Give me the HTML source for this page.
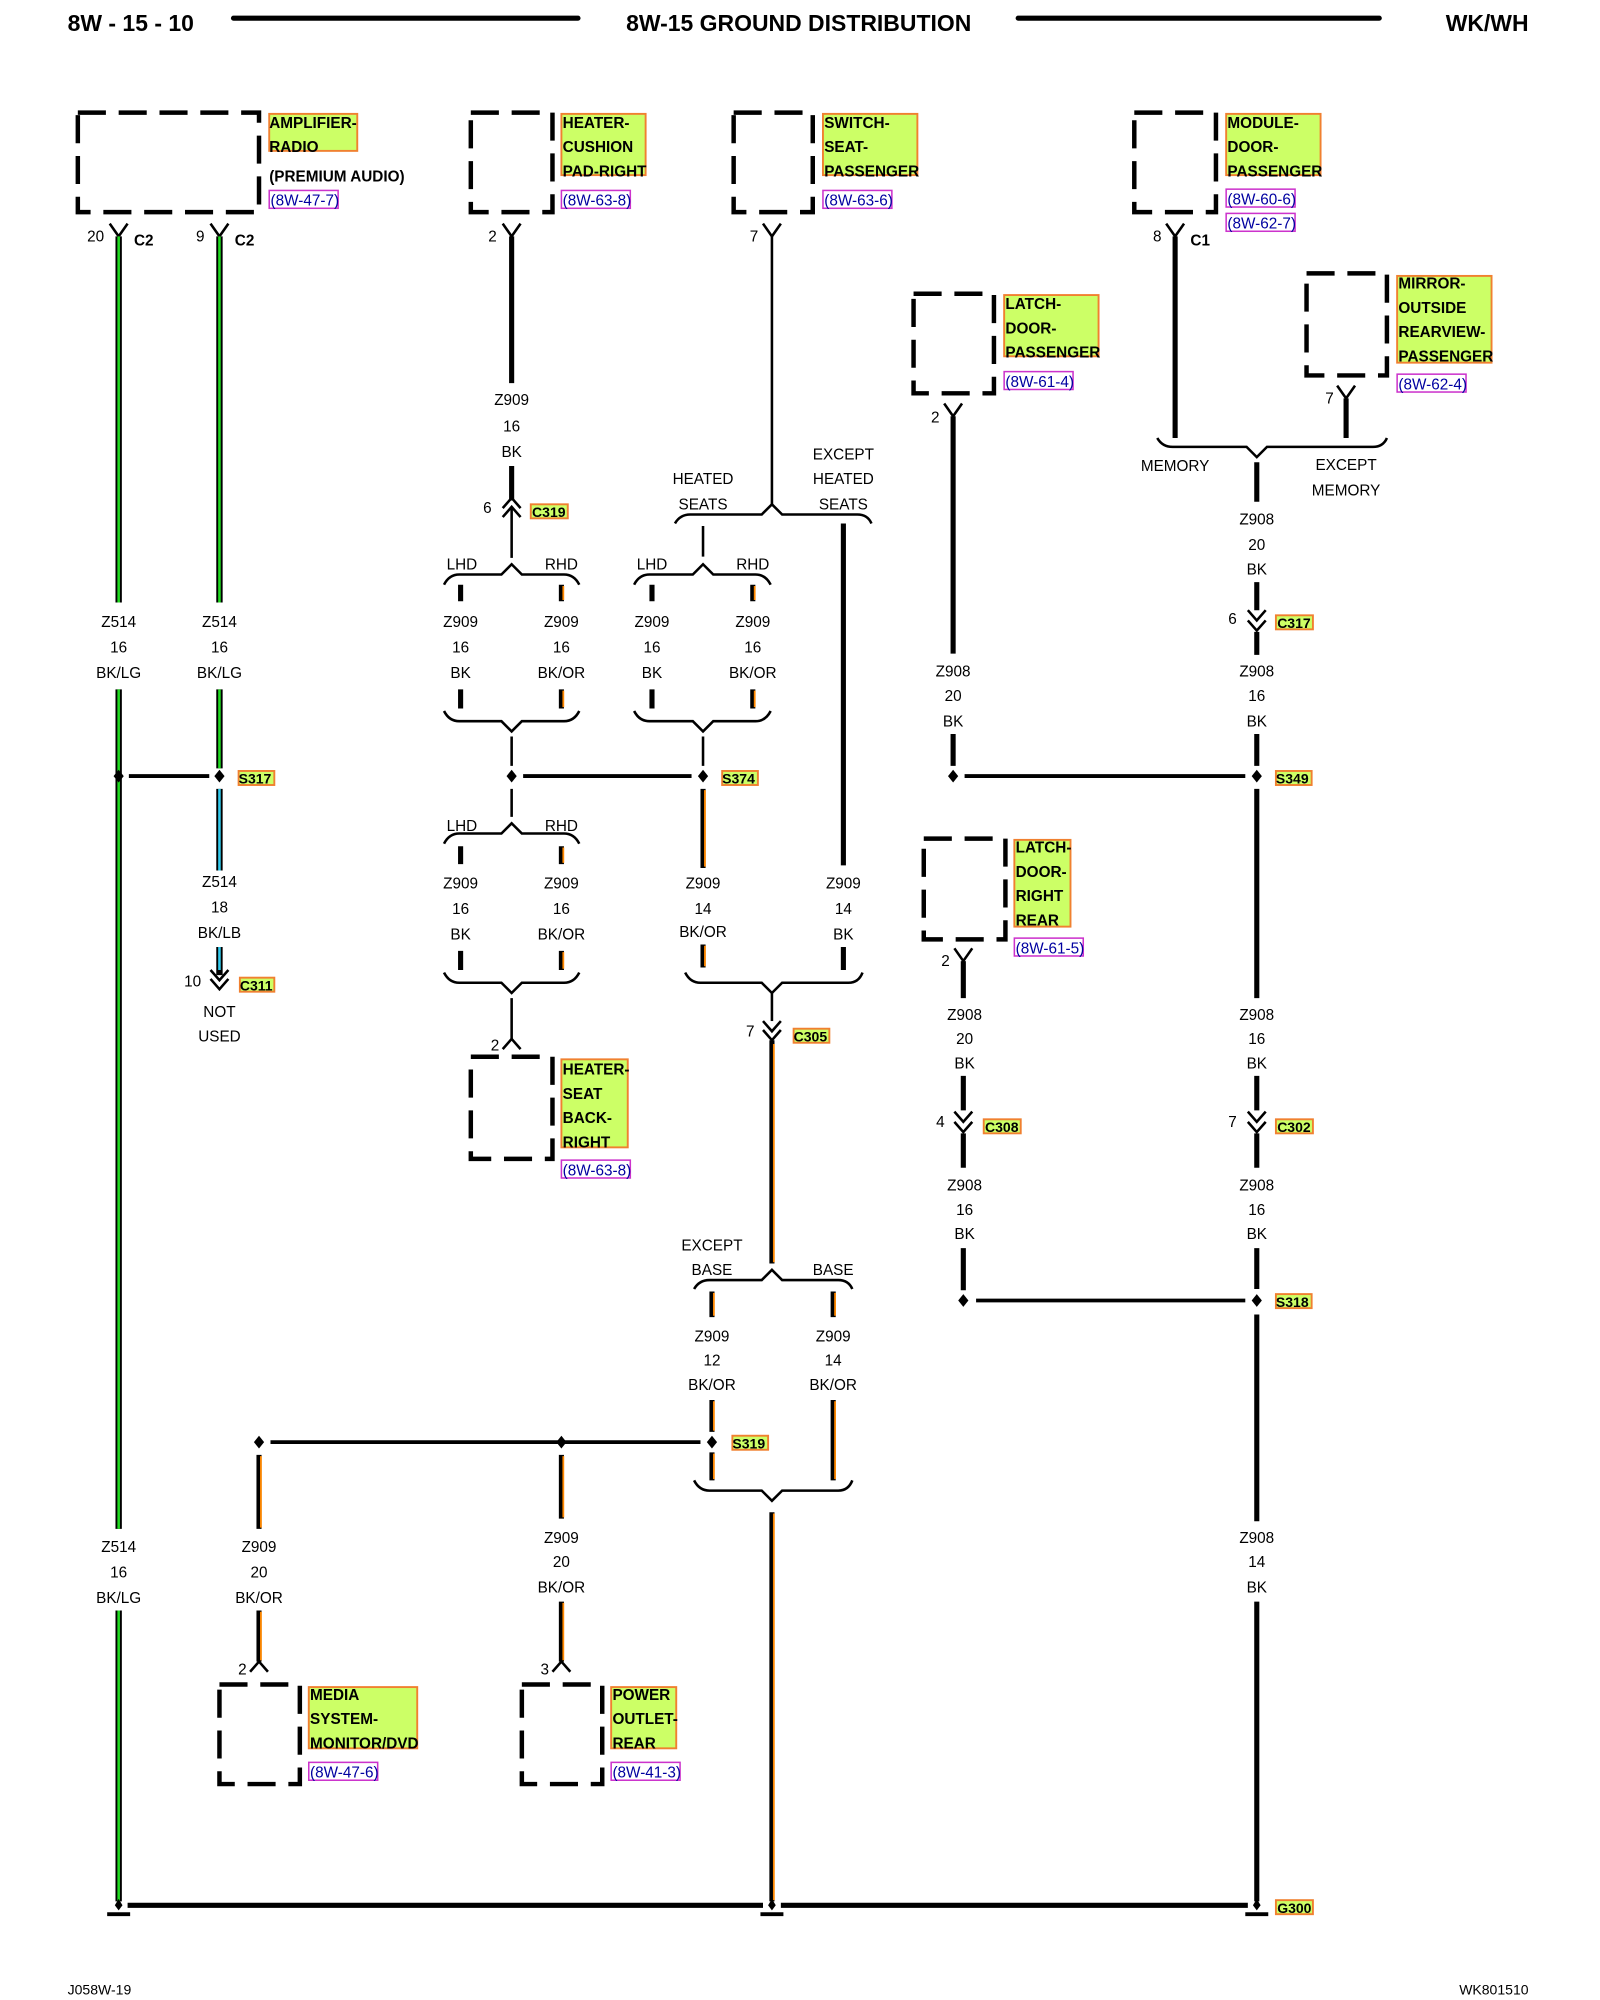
<!DOCTYPE html>
<html><head><meta charset="utf-8"><style>
html,body{margin:0;padding:0;background:#fff;}
svg{display:block;}
text{font-family:"Liberation Sans",sans-serif;}
.t{font-size:12px;text-anchor:middle;fill:#000;}
.b{font-size:12px;font-weight:bold;fill:#000;}
.r{font-size:12px;fill:#0000a0;}
.k{stroke:#000;stroke-width:4;fill:none;}
.n{stroke:#000;stroke-width:2;fill:none;}
.br{stroke:#000;stroke-width:2;fill:none;}
.g{stroke:#22dd22;stroke-width:2;fill:none;}
.o{stroke:#ff8800;stroke-width:1.4;fill:none;}
.c{stroke:#33ccee;stroke-width:2;fill:none;}
.box{stroke:#000;stroke-width:3.5;fill:none;stroke-dasharray:22 10;}
.hl{fill:#ccff66;stroke:#f08030;stroke-width:1.5;}
.rf{fill:#fff;stroke:#cc33cc;stroke-width:1.2;}
</style></head><body>
<svg width="1600" height="2000" viewBox="0 0 1254 1567" xmlns="http://www.w3.org/2000/svg">
<!-- header -->
<text x="53" y="24" style="font-size:18px;font-weight:bold">8W - 15 - 10</text>
<line x1="183" y1="14" x2="453" y2="14" stroke="#000" stroke-width="4" stroke-linecap="round"/>
<text x="626" y="24" style="font-size:18px;font-weight:bold;text-anchor:middle">8W-15 GROUND DISTRIBUTION</text>
<line x1="798" y1="14" x2="1081" y2="14" stroke="#000" stroke-width="4" stroke-linecap="round"/>
<text x="1198" y="24" style="font-size:18px;font-weight:bold;text-anchor:end">WK/WH</text>

<!-- component boxes -->
<rect class="box" x="61" y="88" width="142" height="78"/>
<rect class="box" x="369" y="88" width="64" height="78"/>
<rect class="box" x="575" y="88" width="62" height="78"/>
<rect class="box" x="889" y="88" width="64" height="78"/>
<rect class="box" x="716" y="230" width="63" height="78"/>
<rect class="box" x="1024" y="214" width="63" height="80"/>
<rect class="box" x="724" y="657" width="64" height="79"/>
<rect class="box" x="369" y="828" width="64" height="80"/>
<rect class="box" x="172" y="1320" width="63" height="78"/>
<rect class="box" x="409" y="1320" width="63" height="78"/>

<!-- component labels -->
<rect class="hl" x="211" y="89" width="69" height="29"/>
<text class="b" x="211" y="100">AMPLIFIER-</text><text class="b" x="211" y="119">RADIO</text>
<text class="b" x="211" y="142">(PREMIUM AUDIO)</text>
<rect class="rf" x="211" y="149" width="54" height="14"/><text class="r" x="212" y="161">(8W-47-7)</text>

<rect class="hl" x="440" y="89" width="66" height="48"/>
<text class="b" x="441" y="100">HEATER-</text><text class="b" x="441" y="119">CUSHION</text><text class="b" x="441" y="138">PAD-RIGHT</text>
<rect class="rf" x="440" y="149" width="54" height="14"/><text class="r" x="441" y="161">(8W-63-8)</text>

<rect class="hl" x="645" y="89" width="74" height="48"/>
<text class="b" x="646" y="100">SWITCH-</text><text class="b" x="646" y="119">SEAT-</text><text class="b" x="646" y="138">PASSENGER</text>
<rect class="rf" x="645" y="149" width="54" height="14"/><text class="r" x="646" y="161">(8W-63-6)</text>

<rect class="hl" x="961" y="89" width="74" height="48"/>
<text class="b" x="962" y="100">MODULE-</text><text class="b" x="962" y="119">DOOR-</text><text class="b" x="962" y="138">PASSENGER</text>
<rect class="rf" x="961" y="148" width="54" height="14"/><text class="r" x="962" y="160">(8W-60-6)</text>
<rect class="rf" x="961" y="167" width="54" height="14"/><text class="r" x="962" y="179">(8W-62-7)</text>

<rect class="hl" x="787" y="231" width="74" height="48"/>
<text class="b" x="788" y="242">LATCH-</text><text class="b" x="788" y="261">DOOR-</text><text class="b" x="788" y="280">PASSENGER</text>
<rect class="rf" x="787" y="291" width="54" height="14"/><text class="r" x="788" y="303">(8W-61-4)</text>

<rect class="hl" x="1095" y="216" width="74" height="68"/>
<text class="b" x="1096" y="226">MIRROR-</text><text class="b" x="1096" y="245">OUTSIDE</text><text class="b" x="1096" y="264">REARVIEW-</text><text class="b" x="1096" y="283">PASSENGER</text>
<rect class="rf" x="1095" y="293" width="54" height="14"/><text class="r" x="1096" y="305">(8W-62-4)</text>

<rect class="hl" x="795" y="658" width="44" height="68"/>
<text class="b" x="796" y="668">LATCH-</text><text class="b" x="796" y="687">DOOR-</text><text class="b" x="796" y="706">RIGHT</text><text class="b" x="796" y="725">REAR</text>
<rect class="rf" x="795" y="735" width="54" height="14"/><text class="r" x="796" y="747">(8W-61-5)</text>

<rect class="hl" x="440" y="830" width="52" height="69"/>
<text class="b" x="441" y="842">HEATER-</text><text class="b" x="441" y="861">SEAT</text><text class="b" x="441" y="880">BACK-</text><text class="b" x="441" y="899">RIGHT</text>
<rect class="rf" x="440" y="909" width="54" height="14"/><text class="r" x="441" y="921">(8W-63-8)</text>

<rect class="hl" x="242" y="1322" width="85" height="48"/>
<text class="b" x="243" y="1332">MEDIA</text><text class="b" x="243" y="1351">SYSTEM-</text><text class="b" x="243" y="1370">MONITOR/DVD</text>
<rect class="rf" x="242" y="1381" width="54" height="14"/><text class="r" x="243" y="1393">(8W-47-6)</text>

<rect class="hl" x="479" y="1322" width="51" height="48"/>
<text class="b" x="480" y="1332">POWER</text><text class="b" x="480" y="1351">OUTLET-</text><text class="b" x="480" y="1370">REAR</text>
<rect class="rf" x="479" y="1381" width="54" height="14"/><text class="r" x="480" y="1393">(8W-41-3)</text>

<!-- female pins under boxes (Y) -->
<g class="n">
<path d="M86 175 L93 185 L100 175"/><path d="M165 175 L172 185 L179 175"/>
<path d="M394 175 L401 185 L408 175"/><path d="M598 175 L605 185 L612 175"/>
<path d="M914 175 L921 185 L928 175"/>
<path d="M740 316 L747 326 L754 316"/><path d="M1048 302 L1055 312 L1062 302"/>
<path d="M748 743 L755 753 L762 743"/>
<!-- pins into boxes from below (inverted Y) -->
<path d="M394 822 L401 814 L408 822"/><path d="M196 1310 L203 1302 L210 1310"/><path d="M433 1310 L440 1302 L447 1310"/>
</g>
<text class="t" x="75" y="189">20</text><text class="b" x="105" y="192">C2</text>
<text class="t" x="157" y="189">9</text><text class="b" x="184" y="192">C2</text>
<text class="t" x="386" y="189">2</text><text class="t" x="591" y="189">7</text>
<text class="t" x="907" y="189">8</text><text class="b" x="933" y="192">C1</text>
<text class="t" x="733" y="331">2</text><text class="t" x="1042" y="316">7</text>
<text class="t" x="741" y="757">2</text>
<text class="t" x="388" y="823">2</text><text class="t" x="190" y="1312">2</text><text class="t" x="427" y="1312">3</text>

<!-- green wires Z514 -->
<g>
<path class="k" d="M93 185 V472 M93 540 V1198 M93 1262 V1490" style="stroke-width:5"/>
<path class="g" d="M93 185 V472 M93 540 V1198 M93 1262 V1490"/>
<path class="k" d="M172 185 V472 M172 540 V602" style="stroke-width:5"/>
<path class="g" d="M172 185 V472 M172 540 V602"/>
<path class="k" d="M172 618 V682 M172 742 V764" style="stroke-width:5"/>
<path class="c" d="M172 618 V682 M172 742 V760"/>
</g>
<text class="t" x="93" y="491">Z514</text><text class="t" x="93" y="511">16</text><text class="t" x="93" y="531">BK/LG</text>
<text class="t" x="172" y="491">Z514</text><text class="t" x="172" y="511">16</text><text class="t" x="172" y="531">BK/LG</text>
<text class="t" x="172" y="695">Z514</text><text class="t" x="172" y="715">18</text><text class="t" x="172" y="735">BK/LB</text>
<text class="t" x="93" y="1216">Z514</text><text class="t" x="93" y="1236">16</text><text class="t" x="93" y="1256">BK/LG</text>
<line class="k" x1="101" y1="608" x2="164" y2="608" style="stroke-width:3"/>
<path class="n" d="M165 760 L172 768 L179 760 M165 767 L172 775 L179 767"/>
<text class="t" x="151" y="773">10</text><rect class="hl" x="188" y="766" width="27" height="11"/><text class="b" x="188" y="776" style="font-size:11px">C311</text>
<text class="t" x="172" y="797">NOT</text><text class="t" x="172" y="816">USED</text>
<rect class="hl" x="187" y="604" width="28" height="11"/><text class="b" x="187" y="614" style="font-size:11px">S317</text>

<!-- x=401 heater cushion -->
<path class="k" d="M401 185 V300 M401 365 V392"/>
<path class="n" d="M394 398 L401 390 L408 398 M394 405 L401 397 L408 405"/>
<line class="n" x1="401" y1="398" x2="401" y2="437"/>
<text class="t" x="401" y="317">Z909</text><text class="t" x="401" y="338">16</text><text class="t" x="401" y="358">BK</text>
<text class="t" x="382" y="402">6</text><rect class="hl" x="416" y="395" width="29" height="11"/><text class="b" x="417" y="405" style="font-size:11px">C319</text>

<!-- braces helper paths -->
<g class="br">
<!-- LHD/RHD top pair 1 -->
<path d="M348 458 Q352 450 360 450 H393 L401 442 L409 450 H442 Q450 450 454 458"/>
<path d="M348 557 Q352 565 360 565 H393 L401 573 L409 565 H442 Q450 565 454 557"/>
<!-- pair 2 -->
<path d="M497 458 Q501 450 509 450 H543 L551 442 L559 450 H592 Q600 450 604 458"/>
<path d="M497 557 Q501 565 509 565 H543 L551 573 L559 565 H592 Q600 565 604 557"/>
<!-- heated seats -->
<path d="M529 410 Q533 403 541 403 H597 L605 395 L613 403 H672 Q680 403 683 410"/>
<!-- lower LHD/RHD -->
<path d="M348 661 Q352 653 360 653 H393 L401 645 L409 653 H442 Q450 653 454 661"/>
<path d="M348 762 Q352 770 360 770 H393 L401 778 L409 770 H442 Q450 770 454 762"/>
<!-- 551/661 merge -->
<path d="M537 762 Q541 770 549 770 H597 L605 778 L613 770 H665 Q673 770 676 762"/>
<!-- memory -->
<path d="M907 343 Q911 350 919 350 H977 L985 358 L993 350 H1076 Q1084 350 1087 343"/>
<!-- base -->
<path d="M544 1010 Q548 1003 556 1003 H597 L605 995 L613 1003 H657 Q665 1003 668 1010"/>
<path d="M544 1160 Q548 1168 556 1168 H597 L605 1176 L613 1168 H657 Q665 1168 668 1160"/>
</g>
<text class="t" x="362" y="446">LHD</text><text class="t" x="440" y="446">RHD</text>
<text class="t" x="511" y="446">LHD</text><text class="t" x="590" y="446">RHD</text>
<text class="t" x="362" y="651">LHD</text><text class="t" x="440" y="651">RHD</text>
<text class="t" x="551" y="379">HEATED</text><text class="t" x="551" y="399">SEATS</text>
<text class="t" x="661" y="360">EXCEPT</text><text class="t" x="661" y="379">HEATED</text><text class="t" x="661" y="399">SEATS</text>
<text class="t" x="921" y="369">MEMORY</text>
<text class="t" x="1055" y="368">EXCEPT</text><text class="t" x="1055" y="388">MEMORY</text>
<text class="t" x="558" y="980">EXCEPT</text><text class="t" x="558" y="999">BASE</text><text class="t" x="653" y="999">BASE</text>

<!-- short wire stubs pair1 -->
<path class="k" d="M361 458 V471 M361 540 V555 M511 458 V471 M511 540 V555 M361 663 V677 M361 745 V760"/>
<path class="k" d="M440 458 V471 M440 540 V555 M590 458 V471 M590 540 V555 M440 663 V677 M440 745 V760"/>
<path class="o" d="M441.5 459 V470 M441.5 541 V554 M591.5 459 V470 M591.5 541 V554 M441.5 664 V676 M441.5 746 V759"/>
<g>
<text class="t" x="361" y="491">Z909</text><text class="t" x="361" y="511">16</text><text class="t" x="361" y="531">BK</text>
<text class="t" x="440" y="491">Z909</text><text class="t" x="440" y="511">16</text><text class="t" x="440" y="531">BK/OR</text>
<text class="t" x="511" y="491">Z909</text><text class="t" x="511" y="511">16</text><text class="t" x="511" y="531">BK</text>
<text class="t" x="590" y="491">Z909</text><text class="t" x="590" y="511">16</text><text class="t" x="590" y="531">BK/OR</text>
<text class="t" x="361" y="696">Z909</text><text class="t" x="361" y="716">16</text><text class="t" x="361" y="736">BK</text>
<text class="t" x="440" y="696">Z909</text><text class="t" x="440" y="716">16</text><text class="t" x="440" y="736">BK/OR</text>
</g>
<path class="n" d="M401 577 V600 M401 618 V640 M401 782 V815 M551 412 V436 M551 577 V600 M605 185 V395"/>
<path class="n" d="M605 778 V800"/>
<line class="k" x1="410" y1="608" x2="542" y2="608" style="stroke-width:3"/>
<rect class="hl" x="566" y="604" width="28" height="11"/><text class="b" x="566" y="614" style="font-size:11px">S374</text>

<!-- 551 orange, 661 black -->
<path class="k" d="M551 618 V680 M551 740 V758"/>
<path class="o" d="M552.5 619 V679 M552.5 741 V757"/>
<path class="k" d="M661 410 V678 M661 742 V760"/>
<text class="t" x="551" y="696">Z909</text><text class="t" x="551" y="716">14</text><text class="t" x="551" y="734">BK/OR</text>
<text class="t" x="661" y="696">Z909</text><text class="t" x="661" y="716">14</text><text class="t" x="661" y="736">BK</text>

<!-- C305 -->
<path class="n" d="M598 800 L605 808 L612 800 M598 807 L605 815 L612 807"/>
<text class="t" x="588" y="812">7</text><rect class="hl" x="622" y="806" width="28" height="11"/><text class="b" x="622" y="816" style="font-size:11px">C305</text>
<path class="k" d="M605 815 V990 M605 1185 V1490"/>
<path class="o" d="M606.5 818 V989 M606.5 1186 V1489"/>

<!-- base branches -->
<path class="k" d="M558 1012 V1032 M558 1097 V1122 M558 1138 V1160 M653 1012 V1032 M653 1097 V1160"/>
<path class="o" d="M559.5 1013 V1031 M559.5 1098 V1121 M559.5 1139 V1159 M654.5 1013 V1031 M654.5 1098 V1159"/>
<text class="t" x="558" y="1051">Z909</text><text class="t" x="558" y="1070">12</text><text class="t" x="558" y="1089">BK/OR</text>
<text class="t" x="653" y="1051">Z909</text><text class="t" x="653" y="1070">14</text><text class="t" x="653" y="1089">BK/OR</text>
<rect class="hl" x="574" y="1125" width="28" height="11"/><text class="b" x="574" y="1135" style="font-size:11px">S319</text>
<line class="k" x1="212" y1="1130" x2="549" y2="1130" style="stroke-width:3"/>

<!-- 203 and 440 drops -->
<path class="k" d="M203 1140 V1198 M203 1262 V1302 M440 1140 V1190 M440 1255 V1302"/>
<path class="o" d="M204.5 1141 V1197 M204.5 1263 V1301 M441.5 1141 V1189 M441.5 1256 V1301"/>
<text class="t" x="203" y="1216">Z909</text><text class="t" x="203" y="1236">20</text><text class="t" x="203" y="1256">BK/OR</text>
<text class="t" x="440" y="1209">Z909</text><text class="t" x="440" y="1228">20</text><text class="t" x="440" y="1248">BK/OR</text>

<!-- right side -->
<path class="k" d="M921 185 V343 M1055 312 V343 M985 362 V393 M985 456 V478 M985 495 V513 M985 575 V600 M985 618 V782 M985 843 V870 M985 888 V915 M985 978 V1010 M985 1030 V1192 M985 1255 V1490"/>
<path class="k" d="M747 326 V512 M747 575 V600 M755 753 V782 M755 843 V870 M755 888 V915 M755 978 V1011"/>
<path class="n" d="M978 478 L985 486 L992 478 M978 486 L985 494 L992 486"/>
<path class="n" d="M748 871 L755 879 L762 871 M748 879 L755 887 L762 879"/>
<path class="n" d="M978 871 L985 879 L992 871 M978 879 L985 887 L992 879"/>
<text class="t" x="985" y="411">Z908</text><text class="t" x="985" y="431">20</text><text class="t" x="985" y="450">BK</text>
<text class="t" x="966" y="489">6</text><rect class="hl" x="1000" y="482" width="29" height="11"/><text class="b" x="1001" y="492" style="font-size:11px">C317</text>
<text class="t" x="985" y="530">Z908</text><text class="t" x="985" y="549">16</text><text class="t" x="985" y="569">BK</text>
<text class="t" x="747" y="530">Z908</text><text class="t" x="747" y="549">20</text><text class="t" x="747" y="569">BK</text>
<line class="k" x1="756" y1="608" x2="976" y2="608" style="stroke-width:3"/>
<rect class="hl" x="1000" y="604" width="28" height="11"/><text class="b" x="1000" y="614" style="font-size:11px">S349</text>
<text class="t" x="756" y="799">Z908</text><text class="t" x="756" y="818">20</text><text class="t" x="756" y="837">BK</text>
<text class="t" x="985" y="799">Z908</text><text class="t" x="985" y="818">16</text><text class="t" x="985" y="837">BK</text>
<text class="t" x="737" y="883">4</text><rect class="hl" x="771" y="877" width="29" height="11"/><text class="b" x="772" y="887" style="font-size:11px">C308</text>
<text class="t" x="966" y="883">7</text><rect class="hl" x="1000" y="877" width="29" height="11"/><text class="b" x="1001" y="887" style="font-size:11px">C302</text>
<text class="t" x="756" y="933">Z908</text><text class="t" x="756" y="952">16</text><text class="t" x="756" y="971">BK</text>
<text class="t" x="985" y="933">Z908</text><text class="t" x="985" y="952">16</text><text class="t" x="985" y="971">BK</text>
<line class="k" x1="765" y1="1019" x2="976" y2="1019" style="stroke-width:3"/>
<rect class="hl" x="1000" y="1014" width="28" height="11"/><text class="b" x="1000" y="1024" style="font-size:11px">S318</text>
<text class="t" x="985" y="1209">Z908</text><text class="t" x="985" y="1228">14</text><text class="t" x="985" y="1248">BK</text>

<!-- splice dots -->
<g fill="#000">
<path d="M93 603 l4 5 -4 5 -4 -5z"/><path d="M172 603 l4 5 -4 5 -4 -5z"/>
<path d="M401 603 l4 5 -4 5 -4 -5z"/><path d="M551 603 l4 5 -4 5 -4 -5z"/>
<path d="M747 603 l4 5 -4 5 -4 -5z"/><path d="M985 603 l4 5 -4 5 -4 -5z"/>
<path d="M755 1014 l4 5 -4 5 -4 -5z"/><path d="M985 1014 l4 5 -4 5 -4 -5z"/>
<path d="M203 1125 l4 5 -4 5 -4 -5z"/><path d="M440 1125 l4 5 -4 5 -4 -5z"/><path d="M558 1125 l4 5 -4 5 -4 -5z"/>
<path d="M93 1488 l3 5 -3 4 -3 -4z"/><path d="M605 1488 l3 5 -3 4 -3 -4z"/><path d="M985 1488 l3 5 -3 4 -3 -4z"/>
</g>
<!-- ground bus -->
<line x1="100" y1="1493" x2="598" y2="1493" stroke="#000" stroke-width="4"/>
<line x1="612" y1="1493" x2="978" y2="1493" stroke="#000" stroke-width="4"/>
<path d="M84 1500 H102 M596 1500 H614 M976 1500 H994" stroke="#000" stroke-width="3"/>
<rect class="hl" x="1000" y="1489" width="29" height="11"/><text class="b" x="1001" y="1499" style="font-size:11px">G300</text>

<!-- footer -->
<text x="53" y="1563" style="font-size:11px">J058W-19</text>
<text x="1198" y="1563" style="font-size:11px;text-anchor:end">WK801510</text>
</svg>
</body></html>
